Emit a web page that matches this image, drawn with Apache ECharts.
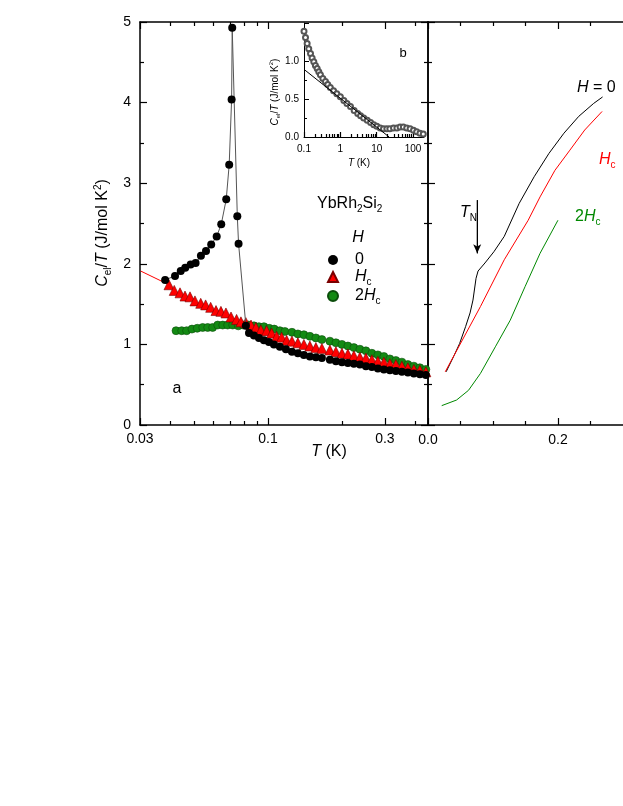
<!DOCTYPE html>
<html>
<head>
<meta charset="utf-8">
<script src="https://cdn.jsdelivr.net/npm/echarts@6/dist/echarts.min.js"></script>
<style>
html, body { margin: 0; padding: 0; background: #fff; }
#chart { width: 623px; height: 806px; }
</style>
</head>
<body>
<div id="chart"></div>
<script>
// panel a: C_el/T vs T (log T), three fields
const blackLowT = [0.0380, 0.0417, 0.0440, 0.0459, 0.0483, 0.0506, 0.0532, 0.0558, 0.0586, 0.0617, 0.0644, 0.0675, 0.0694, 0.0710, 0.0714, 0.0749, 0.0758, 0.0812];
const blackLowC = [1.80, 1.85, 1.91, 1.95, 1.99, 2.01, 2.10, 2.16, 2.24, 2.34, 2.49, 2.80, 3.23, 4.04, 4.93, 2.59, 2.25, 1.23];

const highT = [0.1252, 0.1324, 0.1401, 0.1482, 0.1568, 0.1659, 0.1789, 0.1893, 0.2003, 0.2119, 0.2242, 0.2372, 0.2510, 0.2655, 0.2809, 0.2972, 0.3144, 0.3327, 0.3520, 0.3724, 0.3940, 0.4169, 0.4410];

const blackHighT = [0.0836, 0.0876, 0.0918, 0.0962, 0.1008, 0.1057, 0.1118, 0.1183].concat(highT);
const blackHighC = [1.14, 1.11, 1.08, 1.05, 1.03, 1.00, 0.97, 0.94,
  0.91, 0.89, 0.87, 0.85, 0.84, 0.83, 0.81, 0.79, 0.78, 0.77, 0.76, 0.75, 0.73, 0.72, 0.70, 0.69, 0.68, 0.67, 0.66, 0.65, 0.64, 0.63, 0.62];

const redT = [0.0394, 0.0414, 0.0437, 0.0458, 0.0480, 0.0503, 0.0531, 0.0556, 0.0583, 0.0613, 0.0642, 0.0673, 0.0706, 0.0744, 0.0775, 0.0812, 0.0852, 0.0892, 0.0935, 0.0987, 0.1034, 0.1084, 0.1136, 0.1191].concat(highT);
const redC = [1.74, 1.67, 1.64, 1.60, 1.59, 1.54, 1.51, 1.49, 1.46, 1.42, 1.41, 1.39, 1.34, 1.31, 1.28, 1.27, 1.24, 1.21, 1.18, 1.17, 1.14, 1.10, 1.09, 1.05,
  1.04, 1.02, 1.00, 0.98, 0.96, 0.95, 0.93, 0.91, 0.89, 0.88, 0.86, 0.84, 0.83, 0.81, 0.79, 0.78, 0.76, 0.75, 0.73, 0.71, 0.69, 0.68, 0.66];

const redFitT = [0.0302, 0.0394];
const redFitC = [1.91, 1.74];

const greenT = [0.0421, 0.0444, 0.0465, 0.0489, 0.0514, 0.0541, 0.0567, 0.0594, 0.0623, 0.0653, 0.0684, 0.0717, 0.0756, 0.0792, 0.0833, 0.0876, 0.0918, 0.0962, 0.1011, 0.1060, 0.1118, 0.1172].concat(highT);
const greenC = [1.17, 1.17, 1.17, 1.19, 1.20, 1.21, 1.21, 1.21, 1.24, 1.24, 1.24, 1.24, 1.23, 1.24, 1.24, 1.23, 1.22, 1.22, 1.20, 1.19, 1.17, 1.16,
  1.15, 1.13, 1.12, 1.10, 1.08, 1.06, 1.04, 1.02, 1.00, 0.98, 0.96, 0.94, 0.92, 0.89, 0.87, 0.85, 0.82, 0.80, 0.78, 0.75, 0.73, 0.71, 0.69];

// right panel: linear T
const rH0T = [0.0279, 0.0400, 0.0486, 0.0578, 0.0647, 0.0692, 0.0739, 0.0770, 0.0876, 0.1014, 0.1173, 0.1403, 0.1633, 0.1861, 0.2091, 0.2320, 0.2549, 0.2686];
const rH0C = [0.66, 0.86, 1.01, 1.22, 1.39, 1.55, 1.82, 1.91, 2.01, 2.15, 2.34, 2.75, 3.08, 3.37, 3.62, 3.83, 3.99, 4.07];
const rHcT = [0.0265, 0.0807, 0.1173, 0.1541, 0.1724, 0.1953, 0.2183, 0.2411, 0.2678];
const rHcC = [0.66, 1.47, 2.05, 2.54, 2.83, 3.16, 3.41, 3.66, 3.89];
const r2HcT = [0.0211, 0.0440, 0.0623, 0.0807, 0.1036, 0.1265, 0.1495, 0.1724, 0.1999];
const r2HcC = [0.24, 0.31, 0.43, 0.64, 0.97, 1.30, 1.72, 2.13, 2.54];
const tnArrowT = [0.0757, 0.0757];
const tnArrowC = [2.79, 2.13];

// inset b
const insetT = [0.100, 0.110, 0.122, 0.135, 0.151, 0.167, 0.186, 0.206, 0.230, 0.255, 0.283, 0.33, 0.39, 0.45, 0.53, 0.65, 0.80, 1.0, 1.25, 1.52, 1.9, 2.4, 3.0, 3.6, 4.4, 5.5, 6.8, 8.3, 10.1, 12.5, 15.4, 19, 23, 29, 36, 44, 54, 67, 83, 103, 126, 155, 191];
const insetC = [1.39, 1.31, 1.23, 1.16, 1.10, 1.04, 0.99, 0.94, 0.90, 0.86, 0.82, 0.77, 0.73, 0.69, 0.65, 0.61, 0.57, 0.53, 0.48, 0.44, 0.40, 0.35, 0.31, 0.28, 0.25, 0.22, 0.19, 0.16, 0.14, 0.12, 0.11, 0.11, 0.11, 0.12, 0.12, 0.13, 0.13, 0.12, 0.11, 0.09, 0.07, 0.05, 0.04];
const insetFitT = [0.1, 22];
const insetFitC = [0.89, 0];

// ticks
const leftMajorTicks = [0.03, 0.1, 0.3];
const leftMinorTicks = [0.04, 0.05, 0.06, 0.07, 0.08, 0.09, 0.2, 0.4];
const rightMajorTicks = [0, 0.2];
const rightMinorTicks = [0.05, 0.1, 0.15, 0.25];
const insetMajorTicks = [0.1, 1, 10, 100];
const insetMinorTicks = [0.2, 0.3, 0.4, 0.5, 0.6, 0.7, 0.8, 0.9, 2, 3, 4, 5, 6, 7, 8, 9, 20, 30, 40, 50, 60, 70, 80, 90, 200];
const insetYTicks = [0, 0.5, 1.0];

const FONT = "'Liberation Sans', Arial, Helvetica, sans-serif";

function zip(xs, ys) {
  return xs.map((x, i) => [x, ys[i]]);
}

function rich(size, color) {
  const small = Math.round(size * 0.62);
  const base = { fontSize: size, fontFamily: FONT, color: color, fill: color, lineHeight: Math.round(size * 1.25) };
  const low = { fontSize: small, fontFamily: FONT, color: color, fill: color, lineHeight: Math.round(small * 0.6) };
  return {
    n: Object.assign({}, base),
    i: Object.assign({}, base, { fontStyle: 'italic' }),
    f: Object.assign({}, base, { padding: [0, 0, 0, 12] }),
    fi: Object.assign({}, base, { fontStyle: 'italic', padding: [0, 0, 0, 12] }),
    sub: Object.assign({}, low, { verticalAlign: 'bottom' }),
    sup: Object.assign({}, low, { verticalAlign: 'top' })
  };
}

const frame = { show: true, onZero: false, lineStyle: { color: '#000', width: 1.5 } };
const thin = { show: true, onZero: false, lineStyle: { color: '#000', width: 1 } };
const noLine = { show: false, onZero: false };
const tickStyle = { color: '#000', width: 1.2 };

function logX(grid, pos, min, max, ticks, len, labels, line, fontSize) {
  return {
    gridIndex: grid, type: 'log', logBase: 10, min: min, max: max, position: pos,
    axisLine: line,
    axisTick: { show: true, inside: true, length: len, customValues: ticks, lineStyle: tickStyle },
    axisLabel: labels
      ? { show: true, customValues: labels, color: '#000', fontSize: fontSize, fontFamily: FONT, margin: 7,
          formatter: v => String(Number(Number(v).toPrecision(2))) }
      : { show: false },
    splitLine: { show: false }, minorTick: { show: false }
  };
}

function linX(grid, pos, ticks, len, labels, line) {
  return {
    gridIndex: grid, type: 'value', min: 0, max: 0.3, position: pos,
    axisLine: line,
    axisTick: { show: true, inside: true, length: len, customValues: ticks, lineStyle: tickStyle },
    axisLabel: labels
      ? { show: true, customValues: labels, color: '#000', fontSize: 14, fontFamily: FONT, margin: 8,
          formatter: v => Number(v).toFixed(1) }
      : { show: false },
    splitLine: { show: false }
  };
}

function mainY(grid, pos, labels) {
  return {
    gridIndex: grid, type: 'value', min: 0, max: 5, interval: 1, position: pos,
    axisLine: frame,
    axisTick: { show: true, inside: true, length: 7, lineStyle: tickStyle },
    minorTick: { show: true, splitNumber: 2, length: 4, lineStyle: tickStyle },
    axisLabel: labels
      ? { show: true, color: '#000', fontSize: 14, fontFamily: FONT, margin: 9 }
      : { show: false },
    splitLine: { show: false }
  };
}

const chart = echarts.init(document.getElementById('chart'), null, { renderer: 'canvas' });

const r16 = rich(16, '#000');
const legendRich = rich(16, '#000');

chart.setOption({
  animation: false,
  backgroundColor: '#fff',
  grid: [
    { left: 140, top: 22, width: 288, height: 403 },
    { left: 428, top: 22, width: 218, height: 403 },
    { left: 304, top: 23, width: 120, height: 114 }
  ],
  xAxis: [
    logX(0, 'bottom', 0.03, 0.45, leftMajorTicks, 7, leftMajorTicks, frame, 14),
    logX(0, 'bottom', 0.03, 0.45, leftMinorTicks, 4, null, noLine),
    logX(0, 'top', 0.03, 0.45, leftMajorTicks, 7, null, frame),
    logX(0, 'top', 0.03, 0.45, leftMinorTicks, 4, null, noLine),
    linX(1, 'bottom', rightMajorTicks, 7, rightMajorTicks, frame),
    linX(1, 'bottom', rightMinorTicks, 4, null, noLine),
    linX(1, 'top', rightMajorTicks, 7, null, frame),
    linX(1, 'top', rightMinorTicks, 4, null, noLine),
    logX(2, 'bottom', 0.1, 200, insetMajorTicks, 5, insetMajorTicks, thin, 10),
    logX(2, 'bottom', 0.1, 200, insetMinorTicks, 3, null, noLine)
  ],
  yAxis: [
    mainY(0, 'left', true),
    mainY(0, 'right', false),
    mainY(1, 'left', false),
    {
      gridIndex: 2, type: 'value', min: 0, max: 1.5, interval: 0.5, position: 'left',
      axisLine: thin,
      axisTick: { show: true, inside: true, length: 5, lineStyle: { color: '#000', width: 1 } },
      minorTick: { show: true, splitNumber: 2, length: 3, lineStyle: { color: '#000', width: 1 } },
      axisLabel: { show: true, customValues: insetYTicks, color: '#000', fontSize: 10, fontFamily: FONT, margin: 5,
        formatter: v => Number(v).toFixed(1) },
      splitLine: { show: false }
    }
  ],
  legend: {
    orient: 'vertical', left: 322, top: 247, itemWidth: 10, itemHeight: 10, itemGap: 1,
    selectedMode: false,
    data: [
      { name: '0', icon: 'circle' },
      { name: 'Hc', icon: 'triangle' },
      { name: '2Hc', icon: 'circle' }
    ],
    formatter: name => ({ '0': '{f|0}', 'Hc': '{fi|H}{sub|c}', '2Hc': '{f|2}{i|H}{sub|c}' })[name],
    textStyle: { color: '#000', fontSize: 16, fontFamily: FONT, rich: legendRich }
  },
  series: [
    {
      name: '2Hc', type: 'scatter', xAxisIndex: 0, yAxisIndex: 0, symbol: 'circle', symbolSize: 8,
      itemStyle: { color: '#138a13', borderColor: '#0b4d0b', borderWidth: 0.6, opacity: 1 },
      data: zip(greenT, greenC), z: 3
    },
    {
      name: 'Hc fit', type: 'line', xAxisIndex: 0, yAxisIndex: 0, showSymbol: false, symbol: 'none',
      lineStyle: { color: '#ff0000', width: 1 }, data: zip(redFitT, redFitC), z: 3
    },
    {
      name: 'Hc', type: 'scatter', xAxisIndex: 0, yAxisIndex: 0, symbol: 'triangle', symbolSize: 10,
      itemStyle: { color: '#ff0000', borderColor: '#7a0000', borderWidth: 0.6, opacity: 1 },
      data: zip(redT, redC), z: 4
    },
    {
      name: '0', type: 'scatter', xAxisIndex: 0, yAxisIndex: 0, symbol: 'circle', symbolSize: 8,
      itemStyle: { color: '#000', opacity: 1 }, data: zip(blackHighT, blackHighC), z: 5
    },
    {
      name: '0', type: 'line', xAxisIndex: 0, yAxisIndex: 0, symbol: 'circle', symbolSize: 8, showSymbol: true,
      itemStyle: { color: '#000', opacity: 1 }, lineStyle: { color: '#555', width: 1 },
      data: zip(blackLowT, blackLowC), z: 5
    },
    {
      name: 'H=0 (b)', type: 'line', xAxisIndex: 4, yAxisIndex: 2, symbol: 'none',
      lineStyle: { color: '#000', width: 1 }, data: zip(rH0T, rH0C)
    },
    {
      name: 'Hc (b)', type: 'line', xAxisIndex: 4, yAxisIndex: 2, symbol: 'none',
      lineStyle: { color: '#ff0000', width: 1 }, data: zip(rHcT, rHcC)
    },
    {
      name: '2Hc (b)', type: 'line', xAxisIndex: 4, yAxisIndex: 2, symbol: 'none',
      lineStyle: { color: '#008800', width: 1 }, data: zip(r2HcT, r2HcC)
    },
    {
      name: 'TN arrow', type: 'line', xAxisIndex: 4, yAxisIndex: 2, symbol: 'none',
      lineStyle: { color: '#000', width: 1 }, data: zip(tnArrowT, tnArrowC),
      markLine: {
        silent: true, symbol: ['none', 'arrow'], symbolSize: [6, 9], label: { show: false },
        lineStyle: { color: '#000', width: 1, type: 'solid' },
        data: [[{ coord: [tnArrowT[0], tnArrowC[0]] }, { coord: [tnArrowT[1], tnArrowC[1]] }]]
      }
    },
    {
      name: 'inset data', type: 'scatter', xAxisIndex: 8, yAxisIndex: 3, symbol: 'emptyCircle', symbolSize: 5,
      itemStyle: { color: '#555', borderColor: '#555', borderWidth: 0.7, opacity: 1 }, data: zip(insetT, insetC)
    },
    {
      name: 'inset fit', type: 'line', xAxisIndex: 8, yAxisIndex: 3, symbol: 'none',
      lineStyle: { color: '#000', width: 1 }, data: zip(insetFitT, insetFitC)
    }
  ],
  graphic: [
    { type: 'text', x: 103, y: 233, rotation: Math.PI / 2,
      style: { text: '{i|C}{sub|el}{n|/}{i|T}{n| (J/mol K}{sup|2}{n|)}', rich: r16, align: 'center', verticalAlign: 'middle' } },
    { type: 'text', x: 329, y: 452,
      style: { text: '{i|T}{n| (K)}', rich: r16, align: 'center', verticalAlign: 'middle' } },
    { type: 'text', x: 177, y: 389,
      style: { text: '{n|a}', rich: r16, align: 'center', verticalAlign: 'middle' } },
    { type: 'text', x: 317, y: 204,
      style: { text: '{n|YbRh}{sub|2}{n|Si}{sub|2}', rich: r16, align: 'left', verticalAlign: 'middle' } },
    { type: 'text', x: 358, y: 238,
      style: { text: '{i|H}', rich: r16, align: 'center', verticalAlign: 'middle' } },
    { type: 'text', x: 577, y: 88,
      style: { text: '{i|H}{n| = 0}', rich: r16, align: 'left', verticalAlign: 'middle' } },
    { type: 'text', x: 599, y: 160,
      style: { text: '{i|H}{sub|c}', rich: rich(16, '#ff0000'), align: 'left', verticalAlign: 'middle' } },
    { type: 'text', x: 575, y: 217,
      style: { text: '{n|2}{i|H}{sub|c}', rich: rich(16, '#008800'), align: 'left', verticalAlign: 'middle' } },
    { type: 'text', x: 460, y: 213,
      style: { text: '{i|T}{sub|N}', rich: r16, align: 'left', verticalAlign: 'middle' } },
    { type: 'text', x: 403, y: 53,
      style: { text: '{n|b}', rich: rich(13, '#000'), align: 'center', verticalAlign: 'middle' } },
    { type: 'text', x: 275, y: 92, rotation: Math.PI / 2,
      style: { text: '{i|C}{sub|el}{n|/}{i|T}{n| (J/mol K}{sup|2}{n|)}', rich: rich(10, '#000'), align: 'center', verticalAlign: 'middle' } },
    { type: 'text', x: 359, y: 163,
      style: { text: '{i|T}{n| (K)}', rich: rich(10, '#000'), align: 'center', verticalAlign: 'middle' } }
  ]
});
</script>
</body>
</html>
